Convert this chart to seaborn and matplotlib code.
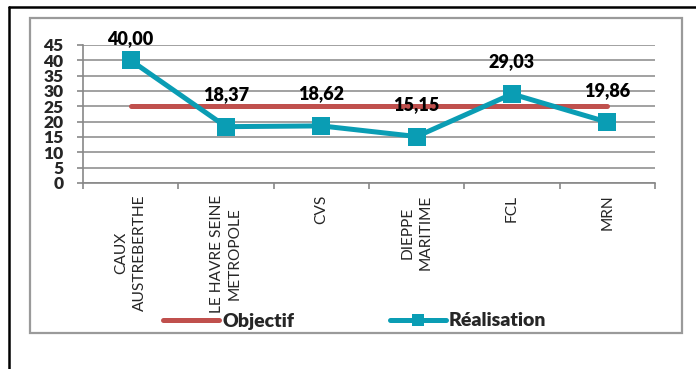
import matplotlib
matplotlib.use("Agg")
import matplotlib.pyplot as plt
import seaborn as sns
import pandas as pd
from matplotlib.lines import Line2D
from matplotlib.patches import Rectangle

# Données
categories = ["CAUX AUSTREBERTHE", "LE HAVRE SEINE METROPOLE", "CVS",
              "DIEPPE MARITIME", "FCL", "MRN"]
tick_labels = ["CAUX\nAUSTREBERTHE", "LE HAVRE SEINE\nMETROPOLE", "CVS",
               "DIEPPE\nMARITIME", "FCL", "MRN"]
objectif = [25, 25, 25, 25, 25, 25]
realisation = [40.00, 18.37, 18.62, 15.15, 29.03, 19.86]
value_labels = ["40,00", "18,37", "18,62", "15,15", "29,03", "19,86"]
y_ticks = [0, 5, 10, 15, 20, 25, 30, 35, 40, 45]

df = pd.DataFrame({"cat": categories, "Objectif": objectif,
                   "Réalisation": realisation})

sns.set_style("white")
plt.rcParams['font.family'] = ['Lato', 'DejaVu Sans']

W, H = 696, 369
fig = plt.figure(figsize=(W / 100, H / 100), dpi=100)
ax = fig.add_axes([83 / W, 1 - 183 / H, (655 - 83) / W, 138 / H])

red = "#C0504D"
teal = "#0A9DB4"
grey = "#888888"
poids = "heavy"

# 1. Les deux séries
sns.lineplot(ax=ax, data=df, x="cat", y="Objectif", color=red, linewidth=3.6,
             solid_capstyle="round", label="Objectif", sort=False)
sns.lineplot(ax=ax, data=df, x="cat", y="Réalisation", color=teal, linewidth=3.6,
             marker="s", markersize=13.5, markeredgewidth=0, label="Réalisation",
             sort=False)

# 2. Etiquettes de valeurs
offsets = [16, 23, 23, 23, 23, 23]
for i, (v, txt) in enumerate(zip(realisation, value_labels)):
    ax.annotate(txt, (i, v), xytext=(0, offsets[i]), textcoords="offset points",
                ha="center", va="center", fontsize=13, fontweight=poids,
                color="black")

# 3. Axes
ax.set_xlim(-0.5, len(categories) - 0.5)
ax.set_ylim(0, 45)
ax.set_yticks(y_ticks)
ax.set_yticklabels([str(t) for t in y_ticks], fontsize=12.5, fontweight=poids)
ax.set_xticks(range(len(categories)))
ax.set_xticklabels(tick_labels, rotation=90, fontsize=11.2, va="top",
                   ha="center", multialignment="center", linespacing=1.35)
ax.set_xticks([i - 0.5 for i in range(len(categories) + 1)], minor=True)
ax.tick_params(axis="x", which="major", length=0, pad=8.5)
ax.tick_params(axis="x", which="minor", length=4, color=grey, width=1.2,
               direction="out", bottom=True)
ax.tick_params(axis="y", length=4, color=grey, width=1.2, direction="out",
               pad=10, left=True)
ax.set_xlabel("")
ax.set_ylabel("")

# 4. Lignes horizontales
ax.grid(visible=True, which="major", axis="y", color=grey, linewidth=1.1)
ax.grid(visible=False, axis="x")
ax.set_axisbelow(True)
for s in ["top", "right"]:
    ax.spines[s].set_visible(False)
for s in ["left", "bottom"]:
    ax.spines[s].set_color(grey)
    ax.spines[s].set_linewidth(1.2)

# 5. Légende
leg = ax.legend(loc="center left", bbox_to_anchor=(163 / W, 1 - 321 / H),
                bbox_transform=fig.transFigure, ncol=2, frameon=False,
                prop={"weight": poids, "size": 14}, handlelength=2.9,
                handletextpad=0.15, columnspacing=4.9, borderaxespad=0,
                borderpad=0)
for h in leg.legend_handles:
    h.set_markersize(8)

# 6. Cadres
fig.add_artist(Rectangle((30 / W, 1 - 333 / H), (682 - 30) / W, (333 - 18) / H,
                         transform=fig.transFigure, fill=False,
                         edgecolor="#9a9a9a", linewidth=1.6))
fig.add_artist(Line2D([9 / W, 1], [1 - 7 / H, 1 - 7 / H],
                      transform=fig.transFigure, color="black", linewidth=1.8))
fig.add_artist(Line2D([9 / W, 9 / W], [1 - 7 / H, 0],
                      transform=fig.transFigure, color="black", linewidth=1.8))

fig.savefig("out.png", dpi=100)
